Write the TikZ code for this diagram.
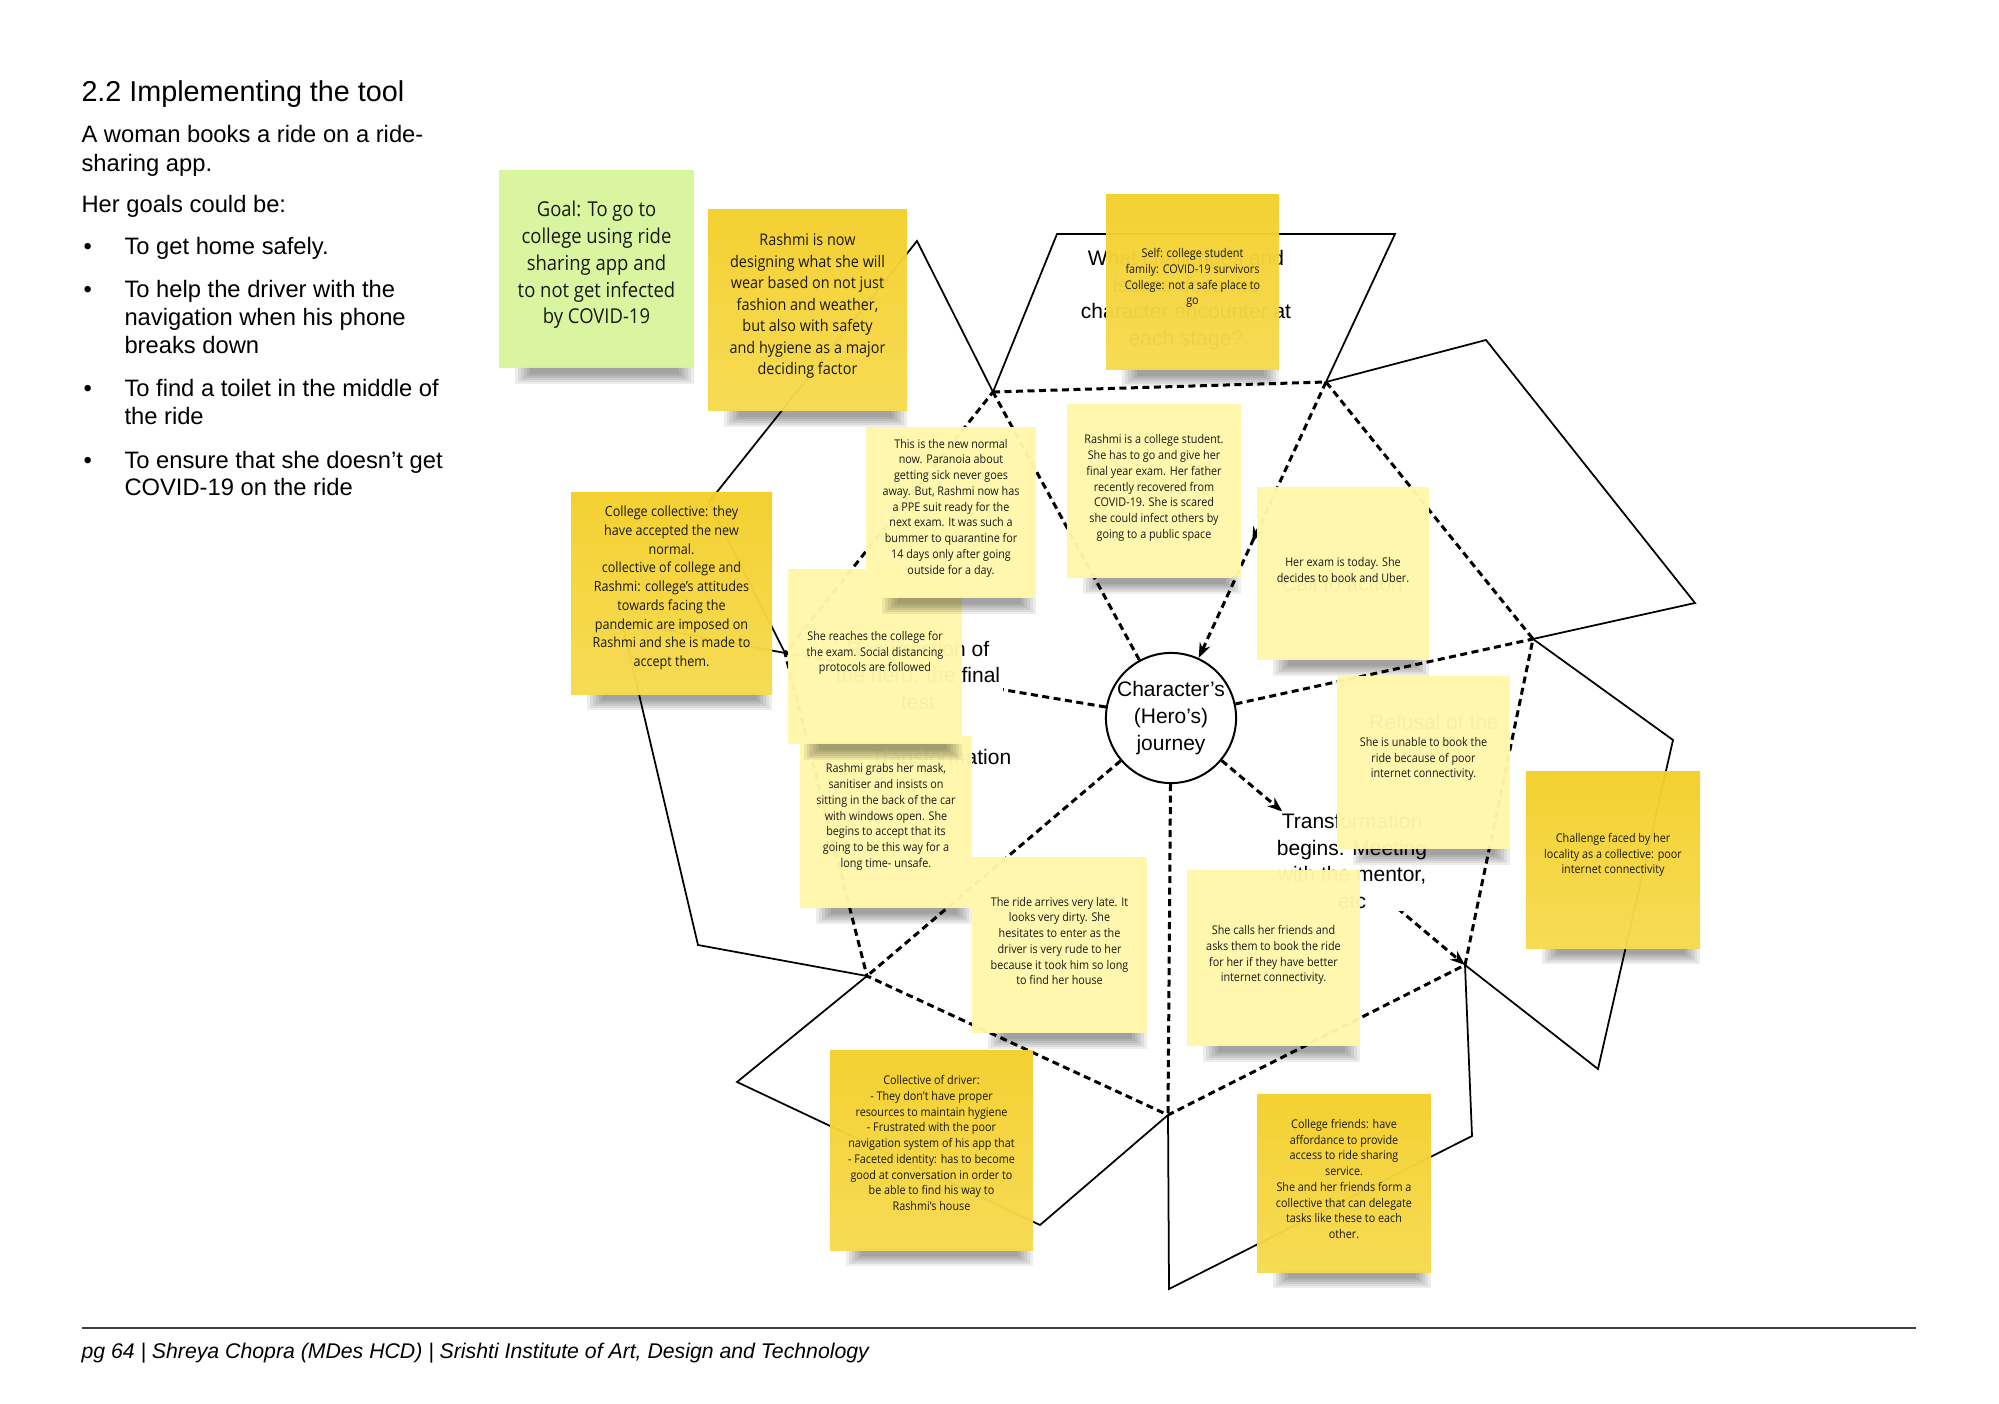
\documentclass[tikz,border=0pt]{standalone}
\usepackage{fontspec}
\setmainfont{Liberation Sans}
\newfontfamily\notefont[FakeStretch=0.9]{Open Sans}
\usetikzlibrary{arrows.meta, decorations.markings}
\definecolor{giallo}{HTML}{F4D02C}
\definecolor{giallochiaro}{HTML}{F6DA50}
\definecolor{giallino}{HTML}{FFF7AB}
\definecolor{verdenota}{HTML}{D8F59C}

% nota adesiva: nome, stile, x0, y0, x1, y1, y del testo, stile del testo, testo
\newcommand{\nota}[9]{%
  \foreach \k in {0,...,5}
    \fill[black, opacity=0.07] ({#3+16+3*\k},{#6-2}) rectangle ({#5-3*\k},{#6+16-2*\k});
  \path[fill opacity=0.97, #2] (#3,#4) rectangle (#5,#6);
  \node[#8] (#1) at ({(#3+#5)/2},#7) {#9};
}

\begin{document}
\begin{tikzpicture}[x=0.4pt, y=-0.4pt,
    titolo/.style={font=\fontsize{11.5}{14}\selectfont, inner sep=0pt},
    corpo/.style={font=\fontsize{9.5}{11.4}\selectfont, inner sep=0pt},
    settore/.style={font=\fontsize{8.4}{10.6}\selectfont, align=center, fill=white, inner sep=1pt},
    piede/.style={font=\fontsize{8.5}{10}\selectfont\itshape, inner sep=0pt},
    bordo/.style={line width=1.2pt, dash pattern=on 2.8pt off 1.8pt},
    lato/.style={line width=0.7pt},
    punta/.style={-{Stealth[length=6pt, width=4.5pt]}},
    frecciamezzo/.style={postaction={decorate, decoration={markings,
        mark=at position #1 with {\arrow{Stealth[length=6pt, width=4.5pt]}}}}},
    notagialla/.style={top color=giallo, bottom color=giallochiaro},
    notachiara/.style={fill=giallino},
    notaverde/.style={fill=verdenota},
    testonota/.style={font=\notefont\fontsize{4.8}{6.3}\selectfont, align=center, inner sep=0pt, text=black!90},
    testomedio/.style={testonota, font=\notefont\fontsize{5.6}{7.5}\selectfont},
    testogrande/.style={testonota, font=\notefont\fontsize{6.4}{8.6}\selectfont},
    testogoal/.style={testonota, font=\notefont\fontsize{8.2}{10.7}\selectfont}]
    % Pagina
    \useasboundingbox (0,0) rectangle (1999,1404);
    \fill[white] (0,0) rectangle (1999,1404);

    % Testo a sinistra
    \node[titolo, anchor=base west] (titolo) at (81,102) {2.2 Implementing the tool};
    \foreach \y/\riga in {143/A woman books a ride on a ride-, 172/sharing app., 213/Her goals could be:}
        \node[corpo, anchor=base west] (intro\y) at (81,\y) {\riga};
    \foreach \y in {255,298,397,469}
        \node[corpo, anchor=base west] (punto\y) at (83,\y) {•};
    \foreach \y/\riga in {255/To get home safely., 298/To help the driver with the, 326/navigation when his phone, 354/breaks down, 397/To find a toilet in the middle of, 425/the ride, 469/To ensure that she doesn’t get, 496/COVID-19 on the ride}
        \node[corpo, anchor=base west] (obiettivo\y) at (124,\y) {\riga};

    % Piede di pagina
    \coordinate (piedesx) at (82,1328);
    \coordinate (piededx) at (1916,1328);
    \draw[line width=0.6pt, black!75] (piedesx) -- (piededx);
    \node[piede, anchor=base west] (piede) at (81,1358) {pg 64 | Shreya Chopra (MDes HCD) | Srishti Institute of Art, Design and Technology};

    % Vertici dell'ettagono
    \coordinate (v1) at (993,392);
    \coordinate (v2) at (1326,382);
    \coordinate (v3) at (1533,639);
    \coordinate (v4) at (1465,965);
    \coordinate (v5) at (1168,1115);
    \coordinate (v6) at (867,976);
    \coordinate (v7) at (785,653);
    % Vertici esterni
    \coordinate (a1) at (917,241);
    \coordinate (a2) at (709,502);
    \coordinate (b1) at (622,622);
    \coordinate (b2) at (698,945);
    \coordinate (c1) at (737,1082);
    \coordinate (c2) at (1040,1225);
    \coordinate (d1) at (1169,1289);
    \coordinate (d2) at (1472,1136);
    \coordinate (e1) at (1598,1069);
    \coordinate (e2) at (1673,740);
    \coordinate (f1) at (1695,603);
    \coordinate (f2) at (1486,340);
    \coordinate (g1) at (1395,234);
    \coordinate (g2) at (1057,234);

    % Figure esterne
    \draw[lato] (v1) -- (a1) -- (a2) -- (v7);
    \draw[lato] (v7) -- (b1) -- (b2) -- (v6);
    \draw[lato] (v6) -- (c1) -- (c2) -- (v5);
    \draw[lato] (v5) -- (d1) -- (d2) -- (v4);
    \draw[lato] (v4) -- (e1) -- (e2) -- (v3);
    \draw[lato] (v3) -- (f1) -- (f2) -- (v2);
    \draw[lato] (v2) -- (g1) -- (g2) -- (v1);

    % Ettagono tratteggiato
    \draw[bordo] (v1) -- (v2) -- (v3) -- (v4) -- (v5) -- (v6) -- (v7) -- cycle;

    % Cerchio centrale e raggi
    \node[circle, draw, line width=0.8pt, fill=white, minimum size=49.6pt, inner sep=0pt, align=center,
        font=\fontsize{8.4}{10.7}\selectfont] (eroe) at (1171,718) {Character’s\\(Hero’s)\\journey};
    \draw[bordo] (eroe) -- (v1);
    \draw[bordo, punta, frecciamezzo=0.58] (v2) -- (eroe);
    \draw[bordo] (eroe) -- (v3);
    \draw[bordo, punta, frecciamezzo=0.25] (eroe) -- (v4);
    \draw[bordo] (eroe) -- (v5);
    \draw[bordo] (eroe) -- (v6);
    \draw[bordo] (eroe) -- (v7);

    % Testi delle tappe
    \node[settore] (domanda) at (1186,300) {What challenges and\\issues does the\\character encounter at\\each stage?};
    \node[settore] (resurrezione) at (918,675) {Resurrection of\\the hero: the final\\test};
    \node[settore] (trasformazione) at (941,757) {Transformation};
    \node[settore] (chiamata) at (1342,584) {Call to action};
    \node[settore] (rifiutotesto) at (1434,735) {Refusal of the\\call};
    \node[settore] (mentore) at (1352,861) {Transformation\\begins. Meeting\\with the mentor,\\etc};

    % Note adesive
    \nota{goal}{notaverde}{499}{170}{694}{368}{265}{testogoal}{Goal: To go to\\college using ride\\sharing app and\\to not get infected\\by COVID-19}
    \nota{design}{notagialla}{708}{210}{907}{411}{306}{testogrande}{Rashmi is now\\designing what she will\\wear based on not just\\fashion and weather,\\but also with safety\\and hygiene as a major\\deciding factor}
    \nota{self}{notagialla}{1106}{195}{1279}{370}{278}{testonota}{Self: college student\\family: COVID-19 survivors\\College: not a safe place to\\go}
    \nota{studente}{notachiara}{1067}{404}{1241}{578}{488}{testonota}{Rashmi is a college student.\\She has to go and give her\\final year exam. Her father\\recently recovered from\\COVID-19. She is scared\\she could infect others by\\going to a public space}
    \nota{esame}{notachiara}{1257}{487}{1429}{660}{570}{testonota}{Her exam is today. She\\decides to book and Uber.}
    \nota{collegio}{notagialla}{571}{493}{772}{694}{588}{testomedio}{College collective: they\\have accepted the new\\normal.\\collective of college and\\Rashmi: college’s attitudes\\towards facing the\\pandemic are imposed on\\Rashmi and she is made to\\accept them.}
    \nota{mascherina}{notachiara}{800}{736}{972}{908}{817}{testonota}{Rashmi grabs her mask,\\sanitiser and insists on\\sitting in the back of the car\\with windows open. She\\begins to accept that its\\going to be this way for a\\long time- unsafe.}
    \nota{arrivo}{notachiara}{788}{569}{962}{744}{653}{testonota}{She reaches the college for\\the exam. Social distancing\\protocols are followed}
    \nota{normale}{notachiara}{866}{427}{1036}{598}{508}{testonota}{This is the new normal\\now. Paranoia about\\getting sick never goes\\away. But, Rashmi now has\\a PPE suit ready for the\\next exam. It was such a\\bummer to quarantine for\\14 days only after going\\outside for a day.}
    \nota{corsa}{notachiara}{972}{857}{1147}{1033}{941}{testonota}{The ride arrives very late. It\\looks very dirty. She\\hesitates to enter as the\\driver is very rude to her\\because it took him so long\\to find her house}
    \nota{amici}{notachiara}{1187}{870}{1360}{1046}{955}{testonota}{She calls her friends and\\asks them to book the ride\\for her if they have better\\internet connectivity.}
    \nota{rifiuto}{notachiara}{1337}{676}{1510}{849}{759}{testonota}{She is unable to book the\\ride because of poor\\internet connectivity.}
    \nota{quartiere}{notagialla}{1526}{771}{1700}{948}{855}{testonota}{Challenge faced by her\\locality as a collective: poor\\internet connectivity}
    \nota{autista}{notagialla}{830}{1050}{1033}{1250}{1143}{testonota}{Collective of driver:\\- They don’t have proper\\resources to maintain hygiene\\- Frustrated with the poor\\navigation system of his app that\\- Faceted identity: has to become\\good at conversation in order to\\be able to find his way to\\Rashmi’s house}
    \nota{compagni}{notagialla}{1257}{1094}{1431}{1272}{1179}{testonota}{College friends: have\\affordance to provide\\access to ride sharing\\service.\\She and her friends form a\\collective that can delegate\\tasks like these to each\\other.}
\end{tikzpicture}
\end{document}
